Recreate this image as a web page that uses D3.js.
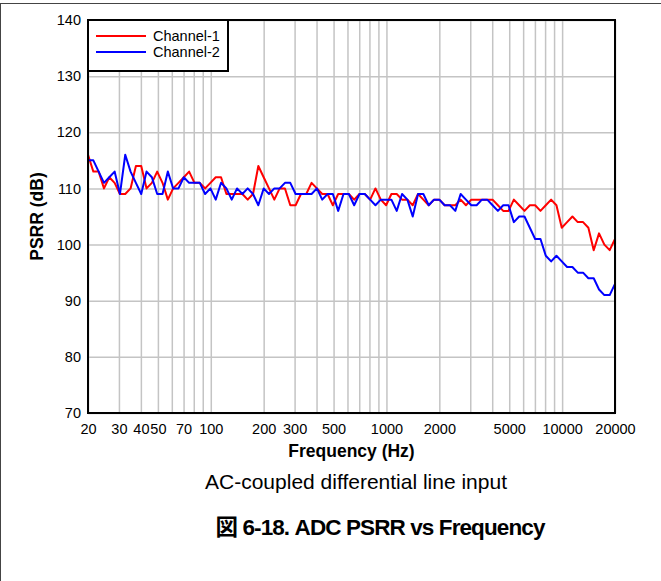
<!DOCTYPE html>
<html>
<head>
<meta charset="utf-8">
<script src="https://cdn.jsdelivr.net/npm/d3@7"></script>
<style>
  body { margin: 0; background: #fff; }
  svg { display: block; font-family: "Liberation Sans", Arial, sans-serif; }
</style>
</head>
<body>
<script>
// Measurement frequencies (Hz), 33 points per decade
var freqs = [20, 21.45, 23.00, 24.66, 26.44, 28.35, 30.40, 32.59, 34.95, 37.47,
  40.18, 43.09, 46.20, 49.54, 53.12, 56.96, 61.07, 65.49, 70.22, 75.29,
  80.74, 86.57, 92.83, 99.54, 106.7, 114.4, 122.7, 131.6, 141.1, 151.3,
  162.2, 174.0, 186.5, 200.0, 214.5, 230.0, 246.6, 264.4, 283.5, 304.0,
  326.0, 349.5, 374.7, 401.8, 430.9, 462.0, 495.4, 531.2, 569.6, 610.7,
  654.9, 702.2, 752.9, 807.4, 865.7, 928.3, 995.4, 1067, 1144, 1227,
  1316, 1411, 1513, 1622, 1740, 1865, 2000, 2145, 2300, 2466,
  2644, 2835, 3040, 3260, 3495, 3747, 4018, 4309, 4620, 4954,
  5312, 5696, 6107, 6549, 7022, 7529, 8074, 8657, 9283, 9954,
  10673, 11444, 12272, 13159, 14110, 15130, 16224, 17396, 18654, 20000];

// PSRR (dB)
var channel1 = [116, 113, 113, 110, 112, 111, 109, 109, 110, 114,
  114, 110, 111, 113, 111, 108, 110, 111, 112, 113,
  111, 111, 110, 111, 112, 112, 109, 109, 109, 109,
  108, 109, 114, 112, 110, 108, 110, 110, 107, 107,
  109, 109, 111, 110, 109, 109, 107, 109, 109, 109,
  108, 109, 109, 108, 110, 108, 107, 109, 109, 108,
  108, 107, 109, 108, 107, 108, 108, 107, 107, 107,
  108, 107, 108, 108, 108, 108, 108, 107, 106, 106,
  108, 107, 106, 107, 107, 106, 107, 108, 107, 103,
  104, 105, 104, 104, 103, 99, 102, 100, 99, 101];

var channel2 = [115, 115, 113, 111, 112, 113, 109, 116, 113, 111,
  109, 113, 112, 109, 109, 113, 110, 110, 112, 111,
  111, 111, 109, 110, 108, 111, 110, 108, 110, 109,
  110, 109, 107, 110, 109, 110, 110, 111, 111, 109,
  109, 109, 109, 110, 108, 109, 109, 106, 109, 109,
  107, 109, 109, 108, 107, 108, 108, 108, 106, 109,
  108, 105, 109, 109, 107, 108, 108, 107, 107, 106,
  109, 108, 107, 107, 108, 108, 107, 106, 107, 107,
  104, 105, 105, 103, 101, 101, 98, 97, 98, 97,
  96, 96, 95, 95, 94, 94, 92, 91, 91, 93];

var seriesNames = ["Channel-1", "Channel-2"];
var seriesColors = ["#ff0000", "#0000ff"];

var yTicks = [70, 80, 90, 100, 110, 120, 130, 140];
var xGrid = [20, 30, 40, 50, 60, 70, 80, 90, 100,
  200, 300, 400, 500, 600, 700, 800, 900, 1000,
  2000, 3000, 4000, 5000, 6000, 7000, 8000, 9000, 10000, 20000];
var xLabels = [20, 30, 40, 50, 70, 100, 200, 300, 500, 1000, 2000, 5000, 10000, 20000];

var width = 661, height = 581;
var margin = {top: 20, right: 46, bottom: 168, left: 88};
var plotW = width - margin.left - margin.right;
var plotH = height - margin.top - margin.bottom;

var svg = d3.select("body").append("svg")
  .attr("width", width)
  .attr("height", height);

// outer figure frame (top and left edges)
svg.append("line").attr("x1", 0).attr("x2", width).attr("y1", 3.5).attr("y2", 3.5)
  .attr("stroke", "#444").attr("stroke-width", 1);
svg.append("line").attr("x1", 0.5).attr("x2", 0.5).attr("y1", 3).attr("y2", height)
  .attr("stroke", "#444").attr("stroke-width", 1);

var g = svg.append("g")
  .attr("transform", "translate(" + margin.left + "," + margin.top + ")");

var x = d3.scaleLog().domain([20, 20000]).range([0, plotW]);
var y = d3.scaleLinear().domain([70, 140]).range([plotH, 0]);

// grid
g.append("g")
  .attr("class", "grid")
  .call(d3.axisBottom(x).tickValues(xGrid).tickSize(plotH).tickFormat(""))
  .call(function(s) { s.select(".domain").remove(); });
g.append("g")
  .attr("class", "grid")
  .call(d3.axisLeft(y).tickValues(yTicks).tickSize(-plotW).tickFormat(""))
  .call(function(s) { s.select(".domain").remove(); });
g.selectAll(".grid line")
  .attr("stroke", "#c4c4c4")
  .attr("stroke-width", 1.5);

// tick labels
g.append("g")
  .attr("transform", "translate(0," + plotH + ")")
  .call(d3.axisBottom(x).tickValues(xLabels).tickSize(0).tickPadding(11).tickFormat(d3.format("d")))
  .call(function(s) { s.select(".domain").remove(); })
  .selectAll("text")
  .attr("font-size", "14.5px")
  .attr("fill", "#000")
  .attr("font-family", "Liberation Sans, Arial, sans-serif");

g.append("g")
  .call(d3.axisLeft(y).tickValues(yTicks).tickSize(0).tickPadding(7))
  .call(function(s) { s.select(".domain").remove(); })
  .selectAll("text")
  .attr("font-size", "14.5px")
  .attr("fill", "#000")
  .attr("font-family", "Liberation Sans, Arial, sans-serif");

// series lines
var series = [channel1, channel2];
var line = d3.line()
  .x(function(d, i) { return x(freqs[i]); })
  .y(function(d) { return y(d); });

series.forEach(function(vals, k) {
  g.append("path")
    .datum(vals)
    .attr("fill", "none")
    .attr("stroke", seriesColors[k])
    .attr("stroke-width", 2)
    .attr("stroke-linejoin", "round")
    .attr("d", line);
});

// plot border
g.append("rect")
  .attr("width", plotW)
  .attr("height", plotH)
  .attr("fill", "none")
  .attr("stroke", "#000")
  .attr("stroke-width", 2);

// legend
var legend = g.append("g");
legend.append("rect")
  .attr("width", 140)
  .attr("height", 51)
  .attr("fill", "#fff")
  .attr("stroke", "#000")
  .attr("stroke-width", 2);
seriesNames.forEach(function(name, k) {
  var ly = 16 + k * 16;
  legend.append("line")
    .attr("x1", 8).attr("x2", 58)
    .attr("y1", ly).attr("y2", ly)
    .attr("stroke", seriesColors[k])
    .attr("stroke-width", 2);
  legend.append("text")
    .attr("x", 65).attr("y", ly)
    .attr("dy", "0.35em")
    .attr("font-size", "14.5px")
    .text(name);
});

// axis titles
svg.append("text")
  .attr("x", margin.left + plotW / 2)
  .attr("y", 457)
  .attr("text-anchor", "middle")
  .attr("font-size", "17.5px")
  .attr("font-weight", "bold")
  .text("Frequency (Hz)");

svg.append("text")
  .attr("transform", "translate(43," + (margin.top + plotH / 2) + ") rotate(-90)")
  .attr("text-anchor", "middle")
  .attr("font-size", "17.5px")
  .attr("font-weight", "bold")
  .text("PSRR (dB)");

// captions
svg.append("text")
  .attr("x", 356)
  .attr("y", 489)
  .attr("text-anchor", "middle")
  .attr("font-size", "21px")
  .text("AC-coupled differential line input");

svg.append("text")
  .attr("x", 380)
  .attr("y", 535)
  .attr("text-anchor", "middle")
  .attr("font-size", "22.5px")
  .attr("font-weight", "bold")
  .attr("letter-spacing", "-0.9px")
  .attr("font-family", "Liberation Sans, Arial, 'Noto Sans CJK JP', sans-serif")
  .text("図 6-18. ADC PSRR vs Frequency");
</script>
</body>
</html>
